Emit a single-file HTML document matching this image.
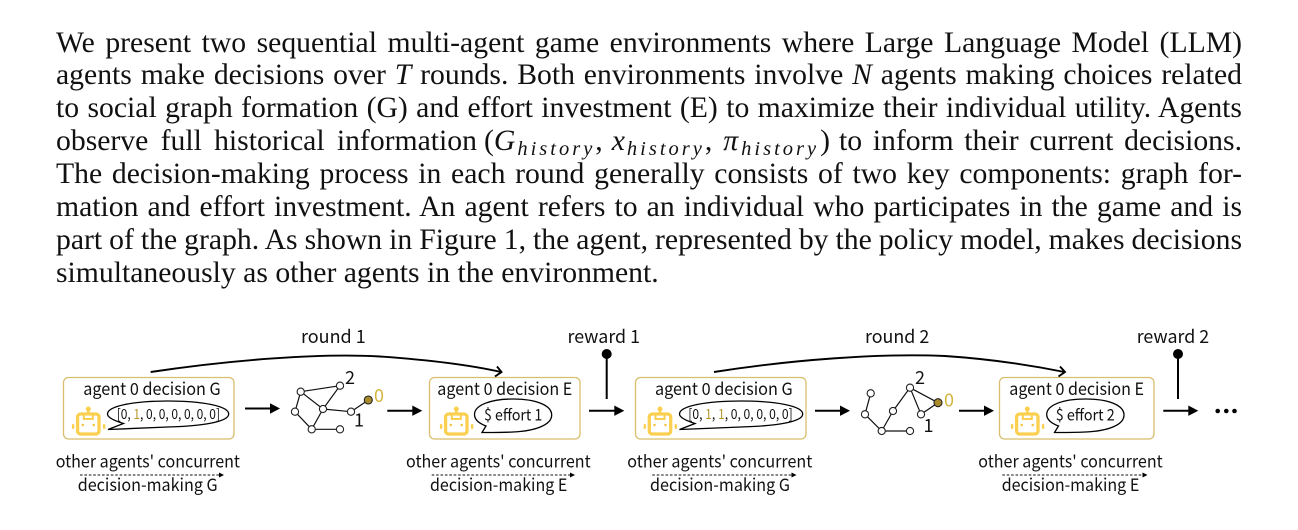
<!DOCTYPE html>
<html>
<head>
<meta charset="utf-8">
<style>
html,body{margin:0;padding:0;background:#fff;}
#wrap{position:relative;width:1298px;height:530px;overflow:hidden;background:#fff;}
.l{position:absolute;left:56px;width:1186px;height:33px;line-height:33px;font-family:"Liberation Serif",serif;font-size:29.7px;word-spacing:-1px;color:#111;white-space:nowrap;text-align:justify;text-align-last:justify;}
.l i{font-style:italic;}
.l sub{font-size:20.5px;font-style:italic;letter-spacing:3px;vertical-align:baseline;position:relative;top:4.5px;line-height:0;}
svg{position:absolute;left:0;top:0;}
svg text{font-family:"Noto Sans CJK TC","Liberation Sans",sans-serif;fill:#111;}
</style>
</head>
<body>
<div id="wrap">
<div class="l" style="top:26.5px">We present two sequential multi-agent game environments where Large Language Model (LLM)</div>
<div class="l" style="top:59.4px">agents make decisions over <i>T</i> rounds. Both environments involve <i>N</i> agents making choices related</div>
<div class="l" style="top:92.2px">to social graph formation (G) and effort investment (E) to maximize their individual utility. Agents</div>
<div class="l" style="top:125px;width:421px">observe full historical information</div>
<div class="l" style="top:125px;left:484px;width:344px;word-spacing:0;text-align:left;text-align-last:left">(<i>G</i><sub style="margin-left:2px">history</sub>,<i style="margin-left:9px">x</i><sub style="margin-left:2px">history</sub>,<i style="margin-left:11px">π</i><sub style="margin-left:3px">history</sub><span style="margin-left:1px">)</span></div>
<div class="l" style="top:125px;left:839px;width:403px">to inform their current decisions.</div>
<div class="l" style="top:158px">The decision-making process in each round generally consists of two key components: graph for-</div>
<div class="l" style="top:190.8px">mation and effort investment. An agent refers to an individual who participates in the game and is</div>
<div class="l" style="top:223.6px">part of the graph. As shown in Figure 1, the agent, represented by the policy model, makes decisions</div>
<div class="l" style="top:256.5px;word-spacing:0;text-align:left;text-align-last:left">simultaneously as other agents in the environment.</div>

<svg width="1298" height="530" viewBox="0 0 1298 530" xmlns="http://www.w3.org/2000/svg">
<defs>
<g id="robot">
  <circle cx="0" cy="-5" r="2.5" fill="#FBCF4F"/>
  <rect x="-1.2" y="-5" width="2.4" height="5" fill="#FBCF4F"/>
  <rect x="-10.7" y="0" width="21.4" height="20" rx="3" fill="none" stroke="#FBCF4F" stroke-width="3.3"/>
  <rect x="-4.5" y="0" width="9" height="5" fill="none" stroke="#FBCF4F" stroke-width="2"/>
  <circle cx="-5.5" cy="11" r="1.3" fill="#F3C64A"/>
  <circle cx="5.5" cy="11" r="1.3" fill="#F3C64A"/>
  <rect x="-16.4" y="10" width="2.4" height="5" rx="1.1" fill="#FBCF4F"/>
  <rect x="14.6" y="10" width="2.4" height="5" rx="1.1" fill="#FBCF4F"/>
</g>
</defs>

<!-- boxes -->
<g fill="#fff" stroke="#D9BE6B" stroke-width="1.3">
<rect x="63.5" y="377.5" width="170.5" height="61.5" rx="5"/>
<rect x="429.5" y="377.5" width="150.5" height="61.5" rx="5"/>
<rect x="635.5" y="377.5" width="170.5" height="61.5" rx="5"/>
<rect x="999.5" y="377.5" width="154.5" height="61.5" rx="5"/>
</g>

<!-- curved arrows -->
<g fill="none" stroke="#000" stroke-width="1.9">
<path d="M150.7 372C230 360 320 353 380 356.5C430 360 470 365 501 372"/>
<path d="M497 366.5L501.5 372L495 376.5"/>
<path d="M714 372C790 360 880 353 945 356C990 359 1030 365 1064.5 372"/>
<path d="M1060 366.5L1065 372L1058.5 376.5"/>
</g>

<!-- straight arrows -->
<g stroke="#000" stroke-width="2" fill="none">
<path d="M245 408.5H272"/><path d="M387.3 410.7H414"/><path d="M589 410.7H616"/><path d="M815 410.7H842"/><path d="M959 410.7H986"/><path d="M1163.3 410.7H1190"/>
<path d="M606.7 354V399"/><path d="M1178 354V399"/>
</g>
<g fill="#000">
<path d="M270 403.3L280 408.5L270 413.7Z"/>
<path d="M412.3 405.5L422.3 410.7L412.3 415.9Z"/>
<path d="M614.3 405.5L624.3 410.7L614.3 415.9Z"/>
<path d="M840 405.5L850 410.7L840 415.9Z"/>
<path d="M984 405.5L994 410.7L984 415.9Z"/>
<path d="M1188.3 405.5L1198.3 410.7L1188.3 415.9Z"/>
<circle cx="606.7" cy="354" r="5"/><circle cx="1178" cy="354" r="5"/>
<circle cx="1217.7" cy="411" r="2.3"/><circle cx="1226.3" cy="411" r="2.3"/><circle cx="1234.5" cy="411" r="2.3"/>
</g>

<!-- robots -->
<use href="#robot" x="88.3" y="414"/>
<use href="#robot" x="456.3" y="414"/>
<use href="#robot" x="660" y="414"/>
<use href="#robot" x="1027.3" y="414"/>

<!-- bubbles -->
<g fill="#fff" stroke="#000" stroke-width="1.3">
<path d="M108 429.5L123.5 423.5C112 420 107.5 417 107.5 414C107.5 406 134 401 168 401C202 401 228.7 406 228.7 414C228.7 422 202 426 168 427C140 428 120 429 108 429.5Z"/>
<path d="M679.5 429.5L695 423.5C684 420 679.5 417 679.5 414C679.5 406 706 401 741 401C776 401 802.7 406 802.7 414C802.7 422 776 426 741 427C713 428 692 429 679.5 429.5Z"/>
<path d="M482 432.5L486 426C478 423 474.5 419 474.5 414.5C474.5 405 491 399 513 399C535 399 551.7 405 551.7 415C551.7 425 535 431 513 432C500 432.6 490 432.5 482 432.5Z"/>
<path d="M1054.5 432.5L1058.5 426C1050.5 423 1046.7 419 1046.7 414.5C1046.7 405 1063 399 1085.5 399C1108 399 1124 405 1124 415C1124 425 1108 431 1085.5 432C1072 432.6 1062 432.5 1054.5 432.5Z"/>
</g>

<!-- graph 1 -->
<g stroke="#111" stroke-width="1.2" fill="none">
<path d="M300.7 391.7L340 385.7M300.7 391.7L295 411.7M300.7 391.7L323 409M340 385.7L323 409M295 411.7L311.7 429.3M323 409L311.7 429.3M323 409L351 411.7M351 411.7L368.3 400M311.7 429.3L340 429.3"/>
</g>
<g fill="#fff" stroke="#222" stroke-width="1.1">
<circle cx="300.7" cy="391.7" r="3.6"/><circle cx="340" cy="385.7" r="3.6"/><circle cx="295" cy="411.7" r="3.6"/><circle cx="323" cy="409" r="3.6"/><circle cx="351" cy="411.7" r="3.6"/><circle cx="311.7" cy="429.3" r="3.6"/><circle cx="340" cy="429.3" r="3.6"/>
<circle cx="368.3" cy="400" r="4" fill="#A98B2C"/>
</g>
<!-- graph 2 -->
<g stroke="#111" stroke-width="1.2" fill="none">
<path d="M870.7 393.3L865 414.3L881.7 431L910 431M881.7 431L893 411L910 387.7L921 414.3L938 402.7L910 387.7"/>
</g>
<g fill="#fff" stroke="#222" stroke-width="1.1">
<circle cx="870.7" cy="393.3" r="3.6"/><circle cx="865" cy="414.3" r="3.6"/><circle cx="881.7" cy="431" r="3.6"/><circle cx="910" cy="431" r="3.6"/><circle cx="893" cy="411" r="3.6"/><circle cx="910" cy="387.7" r="3.6"/><circle cx="921" cy="414.3" r="3.6"/>
<circle cx="938" cy="402.7" r="4" fill="#A98B2C"/>
</g>

<!-- graph labels -->
<g font-size="18">
<text x="345" y="384">2</text>
<text x="354" y="426.5">1</text>
<text x="915" y="384">2</text>
<text x="923.5" y="432">1</text>
<text x="374" y="402" style="fill:#D4B43C">0</text>
<text x="944" y="406.5" style="fill:#D4B43C">0</text>
</g>

<!-- top labels -->
<g font-size="18">
<text x="301" y="343" textLength="64.7" lengthAdjust="spacingAndGlyphs">round 1</text>
<text x="865" y="343" textLength="64.3" lengthAdjust="spacingAndGlyphs">round 2</text>
<text x="567.5" y="343" textLength="72.5" lengthAdjust="spacingAndGlyphs">reward 1</text>
<text x="1136.7" y="343" textLength="72.5" lengthAdjust="spacingAndGlyphs">reward 2</text>
</g>

<!-- box titles -->
<g font-size="17">
<text x="83.3" y="395" textLength="137.4" lengthAdjust="spacingAndGlyphs">agent 0 decision G</text>
<text x="437.3" y="395" textLength="135" lengthAdjust="spacingAndGlyphs">agent 0 decision E</text>
<text x="655" y="395" textLength="137.7" lengthAdjust="spacingAndGlyphs">agent 0 decision G</text>
<text x="1009.3" y="395" textLength="134.7" lengthAdjust="spacingAndGlyphs">agent 0 decision E</text>
</g>

<!-- bubble text -->
<g font-size="14">
<text x="116.7" y="419" textLength="103.3" lengthAdjust="spacingAndGlyphs">[0, <tspan style="fill:#B8962A">1</tspan>, 0, 0, 0, 0, 0, 0]</text>
<text x="688.3" y="419" textLength="104.4" lengthAdjust="spacingAndGlyphs">[0, <tspan style="fill:#B8962A">1</tspan>, <tspan style="fill:#B8962A">1</tspan>, 0, 0, 0, 0, 0]</text>
</g>
<g font-size="16">
<text x="484" y="420.5" textLength="58.3" lengthAdjust="spacingAndGlyphs">$ effort 1</text>
<text x="1055.7" y="420.5" textLength="59" lengthAdjust="spacingAndGlyphs">$ effort 2</text>
</g>

<!-- bottom labels -->
<g font-size="17">
<text x="55.7" y="467.5" textLength="184.3" lengthAdjust="spacingAndGlyphs">other agents' concurrent</text>
<text x="77.7" y="491" textLength="140" lengthAdjust="spacingAndGlyphs">decision-making G</text>
<text x="406" y="467.5" textLength="184.7" lengthAdjust="spacingAndGlyphs">other agents' concurrent</text>
<text x="430" y="491" textLength="137.3" lengthAdjust="spacingAndGlyphs">decision-making E</text>
<text x="627.3" y="467.5" textLength="185" lengthAdjust="spacingAndGlyphs">other agents' concurrent</text>
<text x="650" y="491" textLength="140" lengthAdjust="spacingAndGlyphs">decision-making G</text>
<text x="978.3" y="467.5" textLength="184.4" lengthAdjust="spacingAndGlyphs">other agents' concurrent</text>
<text x="1001.7" y="491" textLength="137.6" lengthAdjust="spacingAndGlyphs">decision-making E</text>
</g>

<!-- dashed arrows -->
<g stroke="#111" stroke-width="0.9" stroke-dasharray="2.6 1.8" fill="none">
<path d="M80 475H220"/><path d="M431.7 475H571"/><path d="M652.3 475H792.5"/><path d="M1002.3 475H1143.5"/>
</g>
<g fill="#000">
<path d="M219 472.5L224 475L219 477.5Z"/>
<path d="M570 472.5L575 475L570 477.5Z"/>
<path d="M791.5 472.5L796.5 475L791.5 477.5Z"/>
<path d="M1142.5 472.5L1147.5 475L1142.5 477.5Z"/>
</g>
</svg>
</div>
</body>
</html>
